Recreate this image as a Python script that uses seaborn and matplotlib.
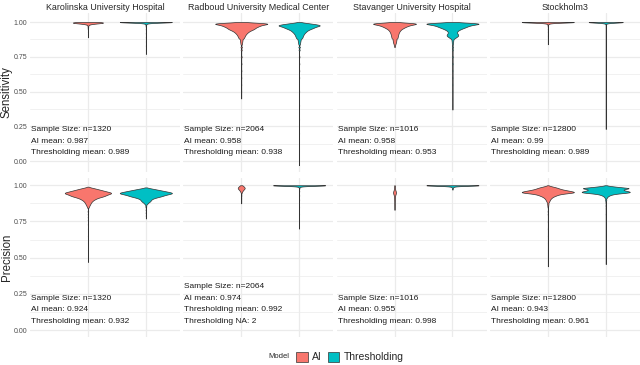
import numpy as np
import pandas as pd
import seaborn as sns
import matplotlib.pyplot as plt
from matplotlib.patches import Patch

hospitals = ["Karolinska University Hospital", "Radboud University Medical Center",
             "Stavanger University Hospital", "Stockholm3"]
metrics = ["Sensitivity", "Precision"]
models = ["AI", "Thresholding"]

# per-violin value grids and counts
sens_vals = {
    ("Karolinska University Hospital", "AI"): ([1.0, 0.995, 0.99, 0.985, 0.98, 0.97, 0.96, 0.95, 0.93, 0.91, 0.89],
                                               [400, 500, 250, 60, 30, 20, 15, 10, 6, 4, 2]),
    ("Karolinska University Hospital", "Thresholding"): ([1.0, 0.995, 0.99, 0.98, 0.97, 0.95, 0.92, 0.89, 0.86, 0.83, 0.80, 0.77],
                                                         [1150, 80, 40, 15, 10, 6, 5, 4, 3, 3, 2, 2]),
    ("Radboud University Medical Center", "AI"): (
        [1.0, .995, .99, .985, .98, .975, .97, .965, .96, .955, .95, .945, .94, .935, .93, .925, .92,
         .915, .91, .905, .90, .895, .89, .885, .88, .87, .86, .85, .84, .82, .80,
         .75, .70, .65, .60, .55, .50, .45],
        [10, 200, 400, 340, 280, 250, 230, 210, 190, 180, 168, 150, 128, 110, 96, 85, 75,
         66, 60, 52, 48, 44, 40, 35, 32, 34, 28, 22, 18, 20, 16,
         14, 10, 8, 6, 5, 4, 2]),
    ("Radboud University Medical Center", "Thresholding"): (
        [1.0, .995, .99, .985, .98, .975, .97, .965, .96, .955, .95, .945, .94, .935, .93, .925, .92,
         .915, .91, .905, .90, .895, .89, .885, .88, .87, .86, .85, .84, .82, .80,
         .75, .70, .65, .60, .50, .40, .30, .20, .10, 0.0, -0.03],
        [8, 100, 200, 290, 370, 400, 340, 290, 275, 240, 210, 180, 155, 140, 125, 112, 100,
         90, 82, 75, 70, 65, 60, 55, 50, 55, 45, 35, 28, 30, 22,
         15, 10, 8, 6, 4, 3, 2, 2, 1, 1, 1]),
    ("Stavanger University Hospital", "AI"): (
        [1.0, .995, .99, .985, .98, .975, .97, .965, .96, .955, .95, .945, .94, .935, .93, .925, .92,
         .915, .91, .905, .90, .895, .89, .885, .88, .87, .86, .85, .84, .83, .82],
        [8, 150, 300, 250, 200, 170, 150, 130, 115, 100, 85, 75, 68, 60, 57, 52, 48,
         46, 44, 42, 40, 38, 36, 35, 34, 45, 38, 30, 20, 12, 5]),
    ("Stavanger University Hospital", "Thresholding"): (
        [1.0, .995, .99, .985, .98, .975, .97, .965, .96, .955, .95, .945, .94, .935, .93, .925, .92,
         .915, .91, .905, .90, .895, .89, .885, .88, .87, .86, .85, .84, .82, .80,
         .75, .70, .65, .60, .55, .50, .45, .40, .37],
        [8, 150, 300, 250, 200, 170, 150, 135, 120, 100, 85, 70, 57, 50, 45, 42, 45,
         50, 55, 57, 55, 45, 35, 25, 18, 18, 14, 12, 10, 12, 10,
         10, 8, 6, 5, 4, 3, 2, 2, 1]),
    ("Stockholm3", "AI"): ([1.0, 0.995, 0.99, 0.98, 0.97, 0.95, 0.93, 0.90, 0.87, 0.84],
                           [11000, 1000, 400, 150, 80, 50, 40, 30, 20, 10]),
    ("Stockholm3", "Thresholding"): ([1.0, 0.995, 0.99, 0.98, 0.96, 0.93, 0.90, 0.85, 0.80, 0.70, 0.60, 0.50, 0.40, 0.30, 0.23],
                                     [11000, 1200, 300, 100, 50, 40, 30, 20, 15, 10, 8, 6, 4, 3, 2]),
}
prec_vals = {
    ("Karolinska University Hospital", "AI"): (
        [.99, .985, .98, .975, .97, .965, .96, .955, .95, .945, .94, .935, .93, .925, .92, .915, .91, .905,
         .90, .895, .89, .885, .88, .875, .87, .865, .86, .855, .85, .845,
         .82, .80, .78, .76, .73, .70, .65, .60, .55, .50, .47],
        [5, 30, 75, 110, 145, 180, 215, 250, 290, 300, 270, 245, 225, 205, 175, 140, 115, 95,
         80, 65, 55, 46, 40, 34, 30, 25, 20, 16, 12, 9,
         8, 6, 5, 5, 4, 3, 3, 2, 2, 2, 1]),
    ("Karolinska University Hospital", "Thresholding"): (
        [.985, .98, .975, .97, .965, .96, .955, .95, .945, .94, .935, .93, .925, .92, .915, .91, .905,
         .90, .895, .89, .885, .88, .875, .87, .86, .85, .83, .81, .79, .77],
        [5, 40, 85, 125, 165, 205, 245, 285, 300, 265, 230, 200, 180, 150, 115, 90, 70,
         60, 55, 50, 40, 28, 20, 15, 10, 8, 6, 5, 3, 1]),
    ("Radboud University Medical Center", "AI"): ([1.0, 0.99, 0.98, 0.97, 0.96, 0.95, 0.93, 0.91, 0.89, 0.875],
                                                  [20, 60, 80, 50, 25, 12, 6, 3, 2, 1]),
    ("Radboud University Medical Center", "Thresholding"): ([1.0, 0.99, 0.98, 0.96, 0.93, 0.90, 0.85, 0.80, 0.75, 0.70],
                                                            [1900, 60, 20, 10, 8, 6, 4, 3, 2, 1]),
    ("Stavanger University Hospital", "AI"): ([1.0, 0.98, 0.96, 0.95, 0.94, 0.92, 0.90, 0.87, 0.85, 0.83],
                                              [20, 40, 60, 70, 60, 40, 30, 20, 10, 5]),
    ("Stavanger University Hospital", "Thresholding"): ([1.0, 0.99, 0.98, 0.97],
                                                        [950, 40, 15, 5]),
    ("Stockholm3", "AI"): (
        [1.0, .995, .99, .985, .98, .975, .97, .965, .96, .955, .95, .945, .94, .935, .93, .925, .92, .915,
         .91, .905, .90, .895, .89, .885, .88, .87, .86, .85,
         .82, .80, .75, .70, .65, .60, .55, .50, .44],
        [20, 300, 700, 1100, 1400, 1620, 2000, 2500, 3000, 3500, 3600, 2600, 1800, 1400, 1150, 900, 700, 550,
         450, 350, 300, 250, 200, 150, 120, 160, 120, 80,
         60, 50, 40, 30, 20, 15, 10, 6, 2]),
    ("Stockholm3", "Thresholding"): (
        [1.0, .995, .99, .985, .98, .975, .97, .965, .96, .955, .95, .945, .94, .935, .93, .925, .92, .915,
         .91, .90, .89, .88, .86, .84, .80, .75, .70, .65, .60, .55, .50, .455],
        [20, 300, 800, 1300, 2000, 1500, 1300, 1400, 1650, 1900, 1850, 1200, 700, 450, 300, 200, 130, 90,
         70, 80, 50, 40, 40, 30, 30, 20, 15, 10, 8, 6, 4, 2]),
}

sample_sizes = [1320, 2064, 1016, 12800]
sens_ai_mean = [0.987, 0.958, 0.958, 0.99]
sens_th_mean = [0.989, 0.938, 0.953, 0.989]
prec_ai_mean = [0.924, 0.974, 0.955, 0.943]
prec_th_mean = [0.932, 0.992, 0.998, 0.961]
prec_th_na = [None, 2, None, None]

# style: violin widths (0.9 = widest) and kde bandwidths
sens_width = [[0.52, 0.9], [0.9, 0.71], [0.74, 0.9], [0.9, 0.59]]
prec_width = [[0.8, 0.9], [0.12, 0.9], [0.05, 0.9], [0.9, 0.83]]
sens_bw = [[0.004, 0.004], [0.0045, 0.0045], [0.0045, 0.0045], [0.004, 0.004]]
prec_bw = [[0.004, 0.004], [0.006, 0.004], [0.01, 0.004], [0.004, 0.0035]]

palette = {"AI": "#F8766D", "Thresholding": "#00BFC4"}

rows = []
for metric, table in [("Sensitivity", sens_vals), ("Precision", prec_vals)]:
    for (hosp, model), (vals, counts) in table.items():
        for v in np.repeat(vals, counts):
            rows.append((metric, hosp, model, v))
df = pd.DataFrame(rows, columns=["metric", "hospital", "model", "value"])

sns.set_theme(style="white")
plt.rcParams['font.family'] = ['Liberation Sans', 'DejaVu Sans']

fig = plt.figure(figsize=(6.4, 3.65), dpi=100)
W, H = 640, 365
row_px = [(13, 172), (178, 337)]
ylims = [(-0.079, 1.065), (-0.048, 1.05)]

for r, metric in enumerate(metrics):
    top, bot = row_px[r]
    for c, hosp in enumerate(hospitals):
        left = 30 + c * 153.3
        ax = fig.add_axes([left / W, (H - bot) / H, 150 / W, (bot - top) / H])
        widths = sens_width if r == 0 else prec_width
        bws = sens_bw if r == 0 else prec_bw
        for m, model in enumerate(models):
            sub = df[(df.metric == metric) & (df.hospital == hosp) & (df.model == model)]
            factor = bws[c][m] / sub.value.std()
            sns.violinplot(data=sub, x="model", y="value", order=models,
                           color=palette[model], saturation=1, width=widths[c][m],
                           density_norm="width", cut=0, inner=None, bw_method=factor,
                           gridsize=1500, linewidth=0.5, linecolor="#333333", ax=ax)
        ax.set_xlim(-1.0, 1.59)
        ax.set_ylim(*ylims[r])
        ax.set_yticks([0, 0.25, 0.5, 0.75, 1.0])
        ax.set_yticks([0.125, 0.375, 0.625, 0.875], minor=True)
        ax.set_xticks([0, 1])
        ax.grid(True, which="major", color="#EBEBEB", lw=0.9)
        ax.grid(True, which="minor", axis="y", color="#EBEBEB", lw=0.5)
        ax.set_axisbelow(True)
        for s in ax.spines.values():
            s.set_visible(False)
        ax.set_xlabel("")
        ax.set_ylabel("")
        ax.set_xticklabels([])
        ax.tick_params(length=0, pad=2)
        if c == 0:
            ax.set_yticklabels(["0.00", "0.25", "0.50", "0.75", "1.00"], fontsize=5, color="#4D4D4D")
            fig.text(7 / W, 1 - (top + bot) / 2 / H, metric, rotation=90,
                     ha="center", va="center", fontsize=8.3)
        else:
            ax.set_yticklabels([])
        if r == 0:
            ax.set_title(hosp, fontsize=6.4, pad=2.5)
            lines = [f"Sample Size: n={sample_sizes[c]}", f"AI mean: {sens_ai_mean[c]}",
                     f"Thresholding mean: {sens_th_mean[c]}"]
        else:
            lines = [f"Sample Size: n={sample_sizes[c]}", f"AI mean: {prec_ai_mean[c]}",
                     f"Thresholding mean: {prec_th_mean[c]}"]
            if prec_th_na[c] is not None:
                lines.append(f"Thresholding NA: {prec_th_na[c]}")
        ax.text(0.006, 0.035, "\n".join(lines), transform=ax.get_yaxis_transform(),
                ha="left", va="bottom", fontsize=6, linespacing=1.9, color="#1A1A1A")

handles = [Patch(facecolor=palette[m], edgecolor="#333333", lw=0.5) for m in models]
fig.legend(handles, models, ncol=2, frameon=False, loc="center",
           bbox_to_anchor=(350 / W, 8 / H), fontsize=7.5, handlelength=1.1,
           handleheight=1.1, handletextpad=0.4, columnspacing=0.6)
fig.text(279 / W, 8 / H, "Model", ha="center", va="center", fontsize=5.5)

plt.savefig("out.png", dpi=100)
